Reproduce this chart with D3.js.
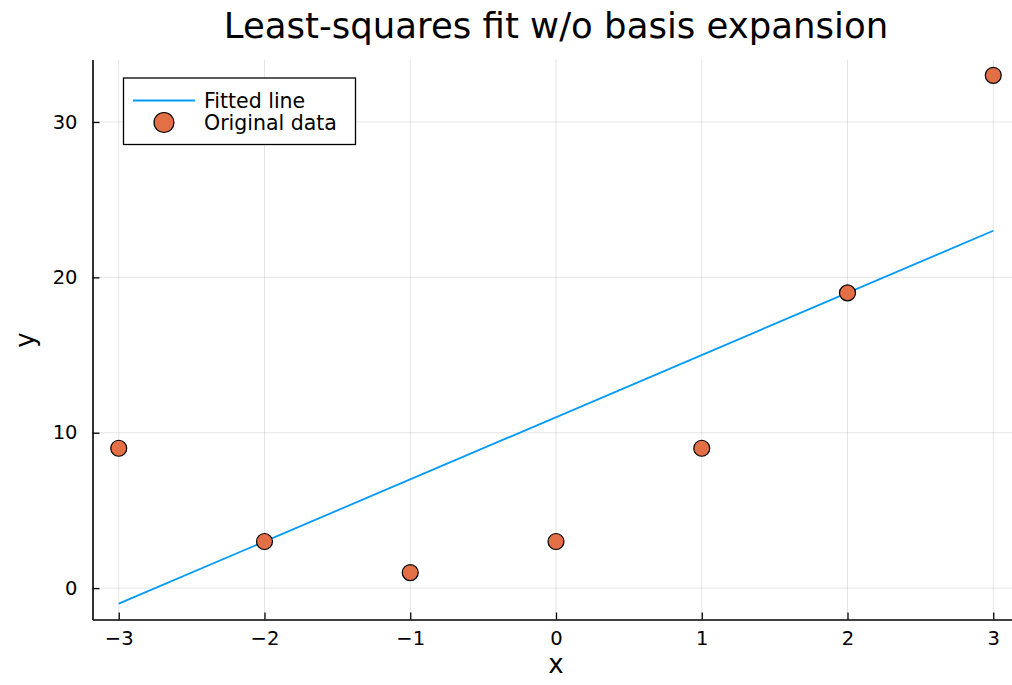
<!DOCTYPE html>
<html>
<head>
<meta charset="utf-8">
<script src="https://cdn.jsdelivr.net/npm/d3@7"></script>
<style>
  body { margin: 0; background: #fff; }
  text { font-family: "DejaVu Sans", sans-serif; }
</style>
</head>
<body>
<div id="chart"></div>
<script>
// data
var xs = [-3, -2, -1, 0, 1, 2, 3];
var ys = [9, 3, 1, 3, 9, 19, 33];
var fitX = [-3, 3];
var fitY = [-1, 23];
var xTicks = [-3, -2, -1, 0, 1, 2, 3];
var yTicks = [0, 10, 20, 30];
var keys = ["Fitted line", "Original data"];

var W = 1012, H = 685;
var padL = 92.5, padT = 59.5, padB = 619.5, padR = 1019.5;

var svg = d3.select("#chart").append("svg")
  .attr("width", W).attr("height", H);

var x = d3.scaleLinear().domain([-3.18, 3.18]).range([padL, padR]);
var y = d3.scaleLinear().domain([-2.02, 34.02]).range([padB, padT]);

// grid
svg.append("g").selectAll("line").data(xTicks).enter().append("line")
  .attr("x1", d => x(d)).attr("x2", d => x(d))
  .attr("y1", padT).attr("y2", padB)
  .attr("stroke", "#000").attr("stroke-opacity", 0.1).attr("stroke-width", 1);
svg.append("g").selectAll("line").data(yTicks).enter().append("line")
  .attr("y1", d => y(d)).attr("y2", d => y(d))
  .attr("x1", padL).attr("x2", padR)
  .attr("stroke", "#000").attr("stroke-opacity", 0.1).attr("stroke-width", 1);

// axes (ticks point inward)
var fmt = d => d < 0 ? "\u2212" + Math.abs(d) : String(d);
var xAxis = svg.append("g")
  .attr("transform", "translate(0," + padB + ")")
  .call(d3.axisBottom(x).tickValues(xTicks).tickSize(-7).tickPadding(12).tickFormat(fmt).tickSizeOuter(0));
var yAxis = svg.append("g")
  .attr("transform", "translate(" + padL + ",0)")
  .call(d3.axisLeft(y).tickValues(yTicks).tickSize(-7).tickPadding(15).tickFormat(fmt).tickSizeOuter(0));
[xAxis, yAxis].forEach(function(a){
  a.attr("font-size", 19.5).attr("font-family", "DejaVu Sans, sans-serif");
  a.select(".domain").attr("stroke", "#000").attr("stroke-width", 1.6);
  a.selectAll(".tick line").attr("stroke", "#000").attr("stroke-width", 1.3);
  a.selectAll(".tick text").attr("fill", "#000");
});

// fitted line
var fit = fitX.map((d, i) => ({x: d, y: fitY[i]}));
svg.append("path").datum(fit)
  .attr("d", d3.line().x(d => x(d.x)).y(d => y(d.y)))
  .attr("stroke", "#009af9").attr("stroke-width", 1.8).attr("fill", "none");

// points
svg.append("g").selectAll("circle").data(xs).enter().append("circle")
  .attr("cx", d => x(d)).attr("cy", (d, i) => y(ys[i]))
  .attr("r", 8)
  .attr("fill", "#e26f46").attr("stroke", "#000").attr("stroke-width", 1.2);

// title and labels
svg.append("text").attr("x", 556).attr("y", 38)
  .attr("text-anchor", "middle").style("font-size", "35.5px").text("Least-squares fit w/o basis expansion");
svg.append("text").attr("x", 556).attr("y", 673)
  .attr("text-anchor", "middle").style("font-size", "26px").text("x");
svg.append("text").attr("transform", "translate(34,340) rotate(-90)")
  .attr("text-anchor", "middle").style("font-size", "26px").text("y");

// legend
var lg = svg.append("g");
lg.append("rect").attr("x", 123.5).attr("y", 78).attr("width", 232).attr("height", 66.5)
  .attr("fill", "#fff").attr("stroke", "#000").attr("stroke-width", 1.3);
lg.append("line").attr("x1", 133).attr("x2", 195).attr("y1", 100.5).attr("y2", 100.5)
  .attr("stroke", "#009af9").attr("stroke-width", 1.8);
lg.append("circle").attr("cx", 164).attr("cy", 122.5).attr("r", 10)
  .attr("fill", "#e26f46").attr("stroke", "#000").attr("stroke-width", 1.2);
lg.selectAll("text.lbl").data(keys).enter().append("text")
  .attr("x", 204).attr("y", (d, i) => 107.5 + i * 22)
  .style("font-size", "20.5px").text(d => d);
</script>
</body>
</html>
